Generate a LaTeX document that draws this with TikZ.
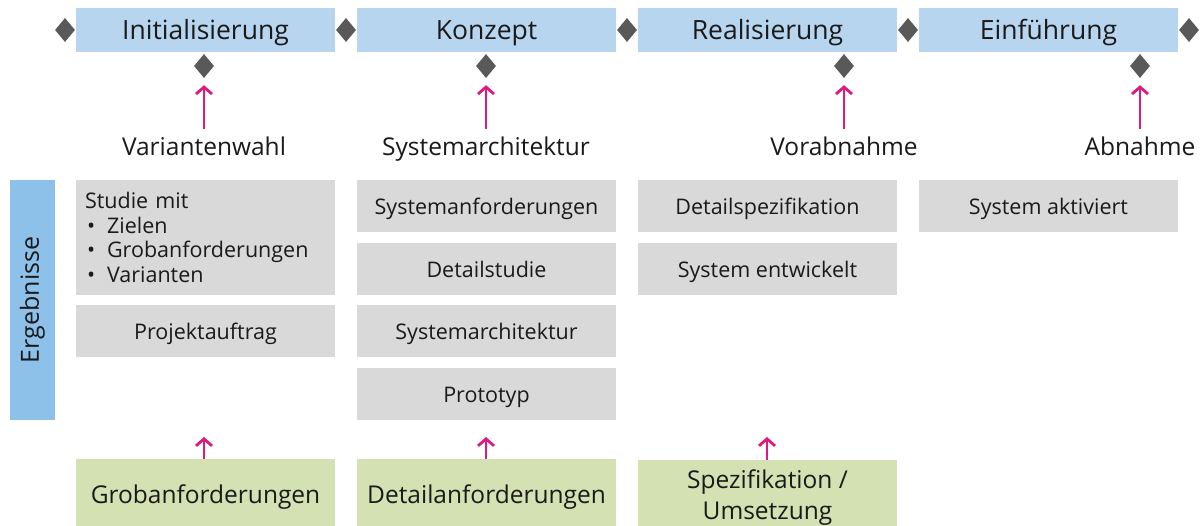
\documentclass[tikz,border=0pt]{standalone}
\usepackage{fontspec}
\setmainfont{Open Sans}
\usetikzlibrary{shapes.geometric,arrows.meta}
\definecolor{phaseblue}{HTML}{B8D5F0}
\definecolor{sideblue}{HTML}{8EC1EA}
\definecolor{resgray}{HTML}{D9D9D9}
\definecolor{inpgreen}{HTML}{D3E1B3}
\definecolor{diagray}{HTML}{595959}
\definecolor{arrmag}{HTML}{DD1A7E}
\definecolor{txt}{HTML}{1A1A1A}
\tikzset{
  phase/.style={fill=phaseblue, minimum width=259pt, minimum height=44pt, inner sep=0pt, text=txt, text height=22pt, text depth=2pt, font=\fontsize{26.5}{30}\selectfont},
  gate/.style={diamond, fill=diagray, minimum width=20pt, minimum height=24pt, inner sep=0pt},
  milestone/.style={inner sep=0pt, text height=18pt, text depth=5pt, text=txt, font=\fontsize{24.5}{28}\selectfont},
  result/.style={fill=resgray, minimum width=259pt, minimum height=52pt, inner sep=0pt, text=txt, text height=18pt, text depth=1pt, font=\fontsize{21.5}{25}\selectfont},
  input/.style={fill=inpgreen, minimum width=259pt, minimum height=76pt, inner sep=0pt, text=txt, align=center, font=\fontsize{24.5}{31}\selectfont},
  sidebar/.style={fill=sideblue, minimum width=240pt, minimum height=45pt, inner sep=0pt, text=txt, rotate=90, font=\fontsize{25}{28}\selectfont},
  marrow/.style={draw=arrmag, line width=2.8pt, -{Straight Barb[length=7pt,width=16pt,line width=2.8pt]}}
}
\begin{document}
\begin{tikzpicture}[x=1pt,y=-1pt]
\path[use as bounding box, clip] (0,0) rectangle (1204,526);
\fill[white] (0,0) rectangle (1204,526);
% phases
\node[phase] (p1) at (205.5,30) {Initialisierung};
\node[phase] (p2) at (486.5,30) {Konzept};
\node[phase] (p3) at (767.5,30) {Realisierung};
\node[phase] (p4) at (1048.5,30) {Einführung};
% gates between phases
\node[gate] (g0) at (65,30) {};
\node[gate] (g1) at (346,30) {};
\node[gate] (g2) at (627,30) {};
\node[gate] (g3) at (908,30) {};
\node[gate] (g4) at (1189,30) {};
% milestone diamonds
\node[gate] (s1) at (204,66) {};
\node[gate] (s2) at (486,66) {};
\node[gate] (s3) at (844,66) {};
\node[gate] (s4) at (1140,66) {};
% milestone labels
\node[milestone] (l1) at (204,149) {Variantenwahl};
\node[milestone] (l2) at (486,149) {Systemarchitektur};
\node[milestone] (l3) at (844,149) {Vorabnahme};
\node[milestone] (l4) at (1140,149) {Abnahme};
\foreach \i in {1,2,3,4}{
  \draw[marrow, shorten <=8pt, shorten >=7pt] (l\i.north) -- (s\i.south);
}
% sidebar
\node[sidebar] (side) at (32.5,300) {Ergebnisse};
% results
\node[result, minimum height=115pt, align=left, text width=241pt, text height=, text depth=] (r11) at (205.5,237.5) {%
  Studie mit\\[-0.5pt]
  \hspace{0.1em}\textbullet\hspace{0.55em}Zielen\\[-0.5pt]
  \hspace{0.1em}\textbullet\hspace{0.55em}Grobanforderungen\\[-0.5pt]
  \hspace{0.1em}\textbullet\hspace{0.55em}Varianten\\[1pt]};
\node[result] (r12) at (205.5,331) {Projektauftrag};
\node[result] (r21) at (486.5,206) {Systemanforderungen};
\node[result] (r22) at (486.5,269) {Detailstudie};
\node[result] (r23) at (486.5,331) {Systemarchitektur};
\node[result] (r24) at (486.5,394) {Prototyp};
\node[result] (r31) at (767.5,206) {Detailspezifikation};
\node[result] (r32) at (767.5,269) {System entwickelt};
\node[result] (r41) at (1048.5,206) {System aktiviert};
% inputs
\node[input] (i1) at (205.5,497) {Grobanforderungen};
\node[input] (i2) at (486.5,497) {Detailanforderungen};
\node[input] (i3) at (767.5,498) {Spezifikation /\\Umsetzung};
\coordinate (t1) at (204,437);
\coordinate (t2) at (486,437);
\coordinate (t3) at (767,437);
\draw[marrow] (i1.north -| t1) -- (t1);
\draw[marrow] (i2.north -| t2) -- (t2);
\draw[marrow] (i3.north -| t3) -- (t3);
\end{tikzpicture}
\end{document}
